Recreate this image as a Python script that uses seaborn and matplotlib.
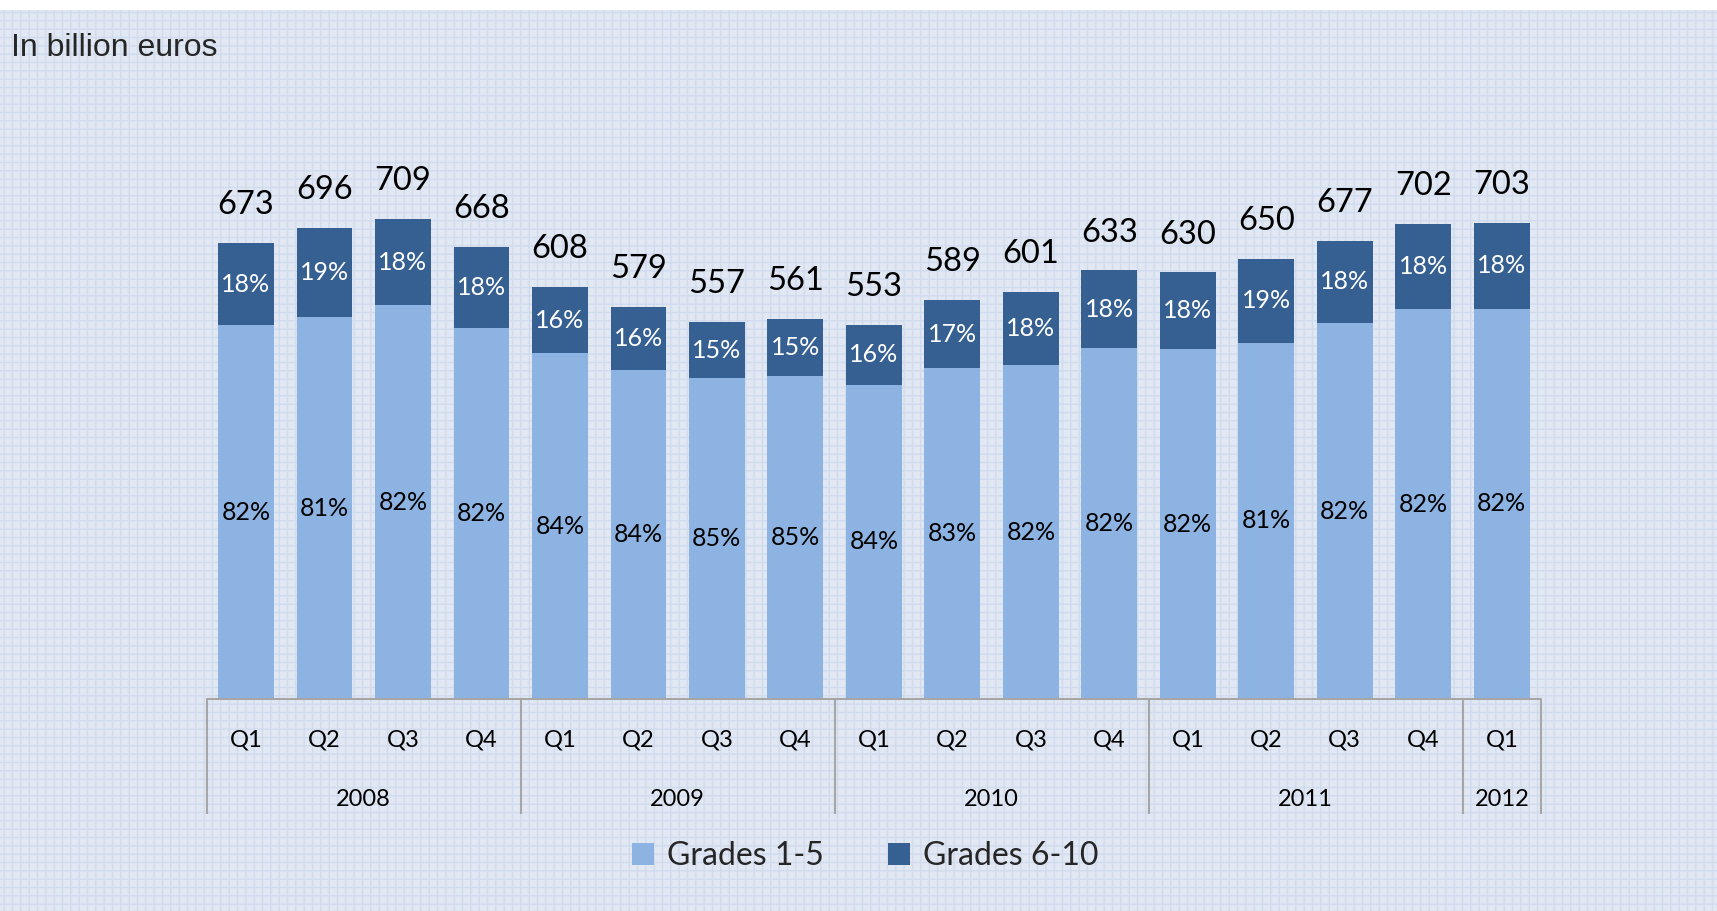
import matplotlib
matplotlib.use("Agg")
import matplotlib.pyplot as plt
import seaborn as sns
import numpy as np
import pandas as pd
from matplotlib.patches import Rectangle, Patch

# ---- data ----
quarters = ["Q1", "Q2", "Q3", "Q4", "Q1", "Q2", "Q3", "Q4", "Q1", "Q2", "Q3", "Q4",
            "Q1", "Q2", "Q3", "Q4", "Q1"]
years = ["2008", "2009", "2010", "2011", "2012"]
year_sizes = [4, 4, 4, 4, 1]
totals = [673, 696, 709, 668, 608, 579, 557, 561, 553, 589, 601, 633, 630, 650, 677, 702, 703]
pct_low = [82, 81, 82, 82, 84, 84, 85, 85, 84, 83, 82, 82, 82, 81, 82, 82, 82]
pct_high = [18, 19, 18, 18, 16, 16, 15, 15, 16, 17, 18, 18, 18, 19, 18, 18, 18]
series_names = ["Grades 1-5", "Grades 6-10"]

c_light = "#8db3e2"
c_dark = "#366092"
bg = "#e1e8f3"

sns.set_theme(style="white")
plt.rcParams["font.family"] = ["Lato", "DejaVu Sans"]

labels = []
yi = 0
cnt = 0
for i, q in enumerate(quarters):
    labels.append(f"{years[yi]} {q}")
    cnt += 1
    if cnt == year_sizes[yi]:
        yi += 1
        cnt = 0

low_vals = [t * p / 100 for t, p in zip(totals, pct_low)]
df = pd.DataFrame({"label": labels, "total": totals, "low": low_vals})

fig = plt.figure(figsize=(17.17, 9.11), dpi=100, facecolor="white")
# patterned background
fig.patches.append(Rectangle((0, 0), 1, 1 - 10 / 911, transform=fig.transFigure,
                             facecolor=bg, edgecolor="#d0dbed", hatch="++",
                             linewidth=0, zorder=-10))

ax = fig.add_axes([206.7 / 1717, 1 - 699 / 911, (1541 - 206.7) / 1717, 677 / 911])
ax.set_facecolor("none")

sns.barplot(data=df, x="label", y="total", color=c_dark, width=0.71, ax=ax,
            saturation=1, linewidth=0, order=labels)
sns.barplot(data=df, x="label", y="low", color=c_light, width=0.71, ax=ax,
            saturation=1, linewidth=0, order=labels)

ax.set_ylim(0, 1000)
ax.set_xlim(-0.5, len(labels) - 0.5)
for s in ax.spines.values():
    s.set_visible(False)
ax.set_xticks([])
ax.set_yticks([])
ax.set_xlabel("")
ax.set_ylabel("")

# baseline
ax.axhline(0, color="#a6a6a6", lw=1.5, zorder=5, clip_on=False)

# value labels
for i in range(len(labels)):
    t = totals[i]
    lo = low_vals[i]
    ax.text(i, t + 56, f"{t}", ha="center", va="center", fontsize=23.5, color="black")
    ax.text(i, lo + (t - lo) / 2, f"{pct_high[i]}%", ha="center", va="center",
            fontsize=18, color="white")
    ax.text(i, lo / 2, f"{pct_low[i]}%", ha="center", va="center",
            fontsize=18, color="black")

trans = ax.get_xaxis_transform()
for i, q in enumerate(quarters):
    ax.text(i, -0.0606, q, transform=trans, ha="center", va="center",
            fontsize=17, color="black")

start = 0
bounds = [-0.5]
for y, n in zip(years, year_sizes):
    center = start + (n - 1) / 2
    ax.text(center, -0.148, y, transform=trans, ha="center", va="center",
            fontsize=17, color="black")
    start += n
    bounds.append(start - 0.5)
ax.vlines(bounds, -0.17, 0, transform=trans, colors="#a6a6a6", lw=1.5, clip_on=False)

# title
fig.text(11 / 1717, 1 - 48 / 911, "In billion euros", fontsize=23,
         family=["Liberation Sans", "DejaVu Sans"], ha="left", va="center")

handles = [Patch(facecolor=c_light, edgecolor="none"), Patch(facecolor=c_dark, edgecolor="none")]
fig.legend(handles, series_names, loc="center", bbox_to_anchor=(0.504, 1 - 856 / 911),
           ncol=2, frameon=False, fontsize=23, handlelength=0.7, handleheight=0.7,
           handletextpad=0.4, columnspacing=2.0)

fig.savefig("out.png", dpi=100, facecolor="white")
